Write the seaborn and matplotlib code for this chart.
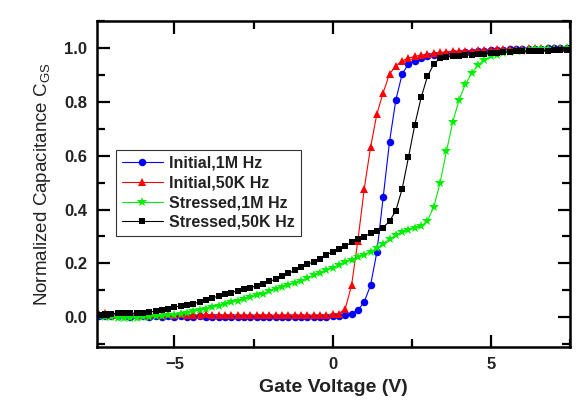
import numpy as np
import pandas as pd
import matplotlib
matplotlib.use('Agg')
import matplotlib.pyplot as plt
from matplotlib.ticker import MultipleLocator
import seaborn as sns

sns.set_theme(style='ticks')
plt.rcParams['font.family'] = ['Liberation Sans', 'DejaVu Sans']
plt.rcParams['mathtext.fontset'] = 'custom'
plt.rcParams['mathtext.rm'] = 'Liberation Sans'
plt.rcParams.update({
    'xtick.direction': 'in', 'ytick.direction': 'in',
    'xtick.top': True, 'ytick.right': True,
    'xtick.major.size': 9, 'ytick.major.size': 9,
    'xtick.minor.size': 5.5, 'ytick.minor.size': 5.5,
    'xtick.major.width': 1.6, 'ytick.major.width': 1.6,
    'xtick.minor.width': 1.6, 'ytick.minor.width': 1.6,
    'xtick.color': 'black', 'ytick.color': 'black',
    'axes.axisbelow': False,
})

# gate voltage (V)
volts = [-7.4, -7.2, -7.0, -6.8, -6.6, -6.4, -6.2, -6.0, -5.8, -5.6,
         -5.4, -5.2, -5.0, -4.8, -4.6, -4.4, -4.2, -4.0, -3.8, -3.6,
         -3.4, -3.2, -3.0, -2.8, -2.6, -2.4, -2.2, -2.0, -1.8, -1.6,
         -1.4, -1.2, -1.0, -0.8, -0.6, -0.4, -0.2, 0.0, 0.2, 0.4,
         0.6, 0.8, 1.0, 1.2, 1.4, 1.6, 1.8, 2.0, 2.2, 2.4,
         2.6, 2.8, 3.0, 3.2, 3.4, 3.6, 3.8, 4.0, 4.2, 4.4,
         4.6, 4.8, 5.0, 5.2, 5.4, 5.6, 5.8, 6.0, 6.2, 6.4,
         6.6, 6.8, 7.0, 7.2, 7.4]

initial_1m = [0.006, 0.004, 0.005, 0.003, 0.004, 0.002, 0.003, 0.004, 0.002, 0.003,
              0.002, 0.003, 0.001, 0.003, 0.002, 0.001, 0.003, 0.002, 0.001, 0.002,
              0.001, 0.002, 0.000, 0.002, 0.001, 0.000, 0.002, 0.001, 0.000, 0.001,
              0.002, 0.000, 0.001, 0.000, 0.002, 0.001, 0.002, 0.003, 0.005, 0.010,
              0.014, 0.026, 0.057, 0.119, 0.242, 0.446, 0.652, 0.807, 0.903, 0.940,
              0.953, 0.962, 0.968, 0.972, 0.975, 0.978, 0.980, 0.982, 0.984, 0.986,
              0.988, 0.990, 0.991, 0.992, 0.993, 0.994, 0.995, 0.996, 0.996, 0.997,
              0.997, 0.998, 0.998, 0.998, 0.998]

initial_50k = [0.012, 0.015, 0.010, 0.014, 0.011, 0.013, 0.010, 0.012, 0.009, 0.012,
               0.010, 0.011, 0.008, 0.011, 0.009, 0.010, 0.008, 0.011, 0.009, 0.010,
               0.008, 0.010, 0.008, 0.009, 0.007, 0.010, 0.008, 0.009, 0.007, 0.009,
               0.008, 0.010, 0.007, 0.009, 0.008, 0.009, 0.010, 0.012, 0.014, 0.032,
               0.119, 0.285, 0.477, 0.631, 0.754, 0.834, 0.903, 0.933, 0.952, 0.962,
               0.968, 0.973, 0.977, 0.980, 0.983, 0.985, 0.987, 0.988, 0.989, 0.990,
               0.991, 0.992, 0.993, 0.994, 0.995, 0.996, 0.997, 0.997, 0.998, 0.998,
               0.999, 0.999, 1.000, 1.000, 1.000]

stressed_1m = [0.006, 0.002, 0.000, -0.002, -0.003, -0.002, -0.001, 0.000, 0.002, 0.003,
               0.005, 0.007, 0.010, 0.013, 0.017, 0.022, 0.027, 0.032, 0.037, 0.043,
               0.049, 0.055, 0.061, 0.067, 0.074, 0.081, 0.088, 0.096, 0.104, 0.112,
               0.120, 0.127, 0.135, 0.145, 0.156, 0.166, 0.175, 0.183, 0.193, 0.204,
               0.214, 0.223, 0.233, 0.244, 0.257, 0.273, 0.290, 0.305, 0.316, 0.324,
               0.330, 0.338, 0.359, 0.409, 0.500, 0.616, 0.725, 0.807, 0.865, 0.906,
               0.936, 0.956, 0.968, 0.975, 0.980, 0.984, 0.987, 0.990, 0.992, 0.994,
               0.995, 0.996, 0.997, 0.997, 0.998]

stressed_50k = [0.010, 0.011, 0.013, 0.016, 0.015, 0.016, 0.015, 0.017, 0.020, 0.022,
                0.027, 0.032, 0.038, 0.042, 0.046, 0.051, 0.057, 0.064, 0.072, 0.079,
                0.086, 0.092, 0.098, 0.104, 0.110, 0.117, 0.125, 0.133, 0.142, 0.152,
                0.163, 0.174, 0.186, 0.196, 0.206, 0.218, 0.231, 0.244, 0.253, 0.264,
                0.278, 0.290, 0.299, 0.312, 0.322, 0.333, 0.357, 0.396, 0.477, 0.594,
                0.715, 0.816, 0.894, 0.940, 0.962, 0.966, 0.968, 0.970, 0.972, 0.974,
                0.976, 0.978, 0.980, 0.982, 0.984, 0.985, 0.987, 0.988, 0.989, 0.990,
                0.990, 0.990, 0.991, 0.991, 0.991]

series = [
    ('Initial,1M Hz', initial_1m, '#0000ff', 'o', 5.4),
    ('Initial,50K Hz', initial_50k, '#ff0000', '^', 6.2),
    ('Stressed,1M Hz', stressed_1m, '#00ee00', '*', 7.5),
    ('Stressed,50K Hz', stressed_50k, '#000000', 's', 5.0),
]

fig = plt.figure(figsize=(5.88, 4.18), dpi=100)
ax = fig.add_axes([0.165, 0.17, 0.804, 0.78])

for label, vals, color, marker, ms in series:
    sns.lineplot(x=volts, y=vals, ax=ax, color=color, marker=marker,
                 markersize=ms, markeredgewidth=0, linewidth=0.8,
                 label=label, sort=False)

ax.set_xlim(-7.45, 7.5)
ax.set_ylim(-0.11, 1.1)
ax.xaxis.set_major_locator(MultipleLocator(5))
ax.xaxis.set_minor_locator(MultipleLocator(2.5))
ax.yaxis.set_major_locator(MultipleLocator(0.2))
ax.yaxis.set_minor_locator(MultipleLocator(0.1))
ax.tick_params(which='both', direction='in', top=True, right=True,
               width=1.6, color='black')
ax.tick_params(which='major', length=9, labelsize=12, pad=7, labelcolor='#222222')
ax.tick_params(which='minor', length=5.5)
for lab in ax.get_xticklabels() + ax.get_yticklabels():
    lab.set_fontweight('bold')
for sp in ax.spines.values():
    sp.set_linewidth(1.8)
    sp.set_color('black')

ax.set_xlabel('Gate Voltage (V)', fontsize=14, fontweight='bold', labelpad=5,
              color='#222222')
ax.set_ylabel('Normalized Capacitance C$_{\\mathrm{GS}}$', fontsize=13.5,
              labelpad=8, color='#222222')

leg = ax.legend(loc='upper left', bbox_to_anchor=(0.04, 0.604), frameon=True,
                fancybox=False, edgecolor='#333333', framealpha=1,
                prop={'weight': 'bold', 'size': 11.5}, handlelength=2.6,
                labelspacing=0.3, borderpad=0.35, handletextpad=0.4,
                borderaxespad=0)
leg.get_frame().set_linewidth(0.8)
for txt in leg.get_texts():
    txt.set_color('#222222')

fig.savefig('out.png', dpi=100)
